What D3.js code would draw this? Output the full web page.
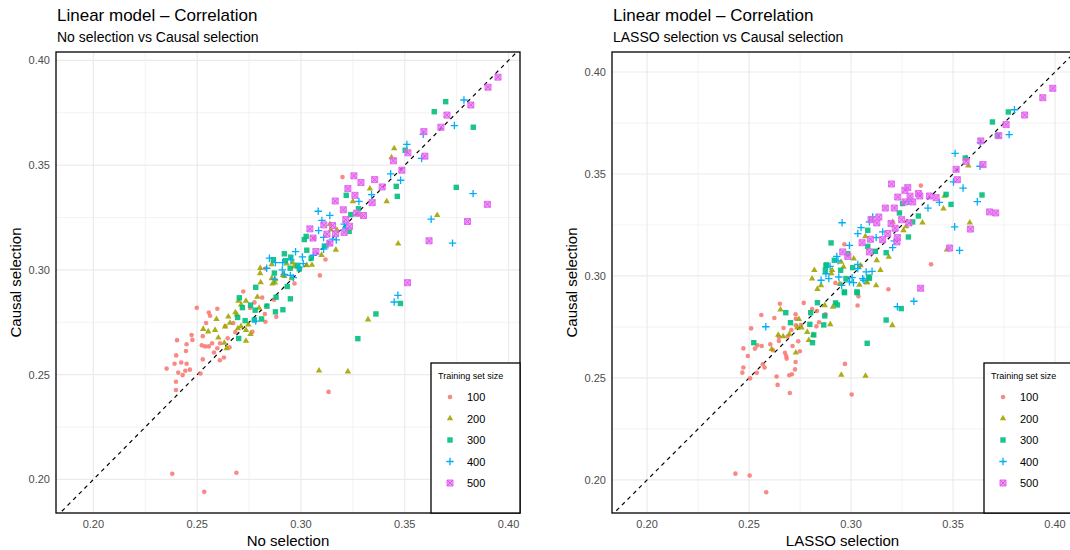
<!DOCTYPE html>
<meta charset="utf-8" />
<style>
  body { margin: 0; background: #fff; }
  text { font-family: 'Liberation Sans', Arial, sans-serif; }
</style>
<svg width="1070" height="550"></svg>
<script src="https://d3js.org/d3.v7.min.js"></script>
<script>
  // [x, causal] pairs
  var noSel100 = [[0.2353,0.2529],[0.2391,0.2552],[0.2398,0.2427],[0.2398,0.2466],[0.2399,0.2592],[0.2403,0.2665],[0.2409,0.2510],[0.2423,0.2558],[0.2430,0.2498],[0.2443,0.2519],[0.2446,0.2613],[0.2449,0.2645],[0.2449,0.2552],[0.2465,0.2524],[0.2473,0.2689],[0.2477,0.2666],[0.2498,0.2819],[0.2516,0.2506],[0.2522,0.2640],[0.2527,0.2684],[0.2527,0.2573],[0.2538,0.2635],[0.2543,0.2747],[0.2556,0.2797],[0.2556,0.2635],[0.2562,0.2781],[0.2572,0.2650],[0.2581,0.2606],[0.2597,0.2815],[0.2597,0.2626],[0.2609,0.2569],[0.2610,0.2650],[0.2629,0.2582],[0.2636,0.2731],[0.2647,0.2674],[0.2656,0.2631],[0.2674,0.2747],[0.2684,0.2703],[0.2722,0.2897],[0.2755,0.2818],[0.2766,0.2705],[0.2776,0.2845],[0.2813,0.2868],[0.2826,0.2790],[0.2829,0.2753],[0.2829,0.3007],[0.2870,0.2858],[0.2881,0.2776],[0.2969,0.2935],[0.3091,0.2974],[0.3118,0.3050],[0.3064,0.3152],[0.3133,0.2418],[0.3200,0.3443],[0.2380,0.2027],[0.2689,0.2032],[0.2534,0.1941]];
  var noSel200 = [[0.2529,0.2718],[0.2553,0.2706],[0.2586,0.2713],[0.2602,0.2677],[0.2593,0.2765],[0.2634,0.2729],[0.2631,0.2652],[0.2642,0.2626],[0.2650,0.2777],[0.2658,0.2747],[0.2684,0.2797],[0.2691,0.2787],[0.2699,0.2852],[0.2712,0.2834],[0.2735,0.2852],[0.2696,0.2721],[0.2711,0.2731],[0.2746,0.2739],[0.2735,0.2713],[0.2757,0.2694],[0.2735,0.2661],[0.2798,0.2819],[0.2790,0.2871],[0.2806,0.2940],[0.2803,0.2984],[0.2859,0.2960],[0.2875,0.2939],[0.2917,0.2979],[0.2955,0.2960],[0.3087,0.2519],[0.3436,0.3537],[0.3449,0.3580],[0.3332,0.3388],[0.3250,0.3327],[0.3413,0.3327],[0.3468,0.3125],[0.3168,0.3096],[0.3099,0.3071],[0.3053,0.3024],[0.3144,0.3192],[0.3139,0.3218],[0.3173,0.3191],[0.2804,0.3008],[0.2859,0.3027],[0.2863,0.2934],[0.2876,0.2955],[0.2920,0.2970],[0.2931,0.3030],[0.2960,0.3035],[0.2968,0.3016],[0.3656,0.3261],[0.3226,0.2515],[0.3323,0.2763],[0.3028,0.3022],[0.2913,0.2975],[0.3280,0.3264]];
  var noSel300 = [[0.3697,0.3803],[0.3642,0.3755],[0.3830,0.3681],[0.3502,0.3571],[0.3459,0.3399],[0.3464,0.3351],[0.3748,0.3394],[0.3218,0.3356],[0.3479,0.2840],[0.3361,0.2790],[0.3274,0.2672],[0.3277,0.3292],[0.3240,0.3264],[0.3232,0.3184],[0.3113,0.3114],[0.3016,0.3145],[0.3025,0.3160],[0.3028,0.3094],[0.3049,0.3056],[0.2920,0.3077],[0.2925,0.3044],[0.2951,0.3061],[0.2948,0.3008],[0.2984,0.3022],[0.2992,0.3005],[0.2872,0.2985],[0.2867,0.3049],[0.2934,0.2921],[0.2949,0.2862],[0.2880,0.2870],[0.2913,0.2810],[0.2877,0.2800],[0.2836,0.2827],[0.2782,0.2917],[0.2703,0.2867],[0.2695,0.2773],[0.2731,0.2758],[0.2718,0.2820],[0.2757,0.2832],[0.2779,0.2808],[0.2775,0.2761],[0.2810,0.2766],[0.2700,0.2673]];
  var noSel400 = [[0.3785,0.3811],[0.3739,0.3689],[0.3589,0.3647],[0.3510,0.3599],[0.3581,0.3532],[0.3432,0.3458],[0.3480,0.3428],[0.3340,0.3359],[0.3279,0.3327],[0.3829,0.3364],[0.3627,0.3242],[0.3730,0.3128],[0.3467,0.2879],[0.3449,0.2847],[0.3083,0.3280],[0.3139,0.3260],[0.3101,0.3236],[0.3085,0.3188],[0.3216,0.3200],[0.3109,0.3155],[0.3152,0.3147],[0.3170,0.3143],[0.3109,0.3099],[0.3208,0.3219],[0.2848,0.3056],[0.2877,0.3035],[0.2912,0.3035],[0.2952,0.3048],[0.2974,0.3087],[0.2920,0.2979],[0.2949,0.2974],[0.2835,0.3008],[0.2963,0.2963],[0.2782,0.2756],[0.2872,0.2955],[0.2910,0.3000],[0.3007,0.3062],[0.3011,0.3030],[0.2990,0.3010],[0.3060,0.3070],[0.3130,0.3120]];
  var noSel500 = [[0.3949,0.3920],[0.3901,0.3872],[0.3818,0.3787],[0.3703,0.3739],[0.3674,0.3681],[0.3592,0.3660],[0.3597,0.3543],[0.3515,0.3559],[0.3445,0.3521],[0.3486,0.3476],[0.3255,0.3449],[0.3289,0.3417],[0.3355,0.3431],[0.3226,0.3388],[0.3391,0.3396],[0.3343,0.3321],[0.3898,0.3313],[0.3260,0.3356],[0.3165,0.3329],[0.3204,0.3287],[0.3268,0.3271],[0.3301,0.3260],[0.3152,0.3212],[0.3216,0.3240],[0.3234,0.3208],[0.3043,0.3196],[0.3058,0.3152],[0.3125,0.3171],[0.3139,0.3128],[0.3072,0.3088],[0.3208,0.3179],[0.3110,0.3215],[0.3167,0.3173],[0.3802,0.3231],[0.3617,0.3139],[0.3513,0.2939]];

  var lasso100 = [[0.2433,0.2031],[0.2503,0.2022],[0.2584,0.1940],[0.3003,0.2419],[0.2970,0.2569],[0.3392,0.3057],[0.3342,0.3443],[0.2967,0.3155],[0.3183,0.2935],[0.3036,0.2900],[0.3032,0.2855],[0.2560,0.2809],[0.2624,0.2794],[0.2651,0.2864],[0.2728,0.2812],[0.2729,0.2790],[0.2729,0.2758],[0.2768,0.2868],[0.2809,0.2838],[0.2833,0.2828],[0.2874,0.2812],[0.2843,0.2773],[0.2830,0.2753],[0.2754,0.2760],[0.2669,0.2745],[0.2707,0.2735],[0.2689,0.2703],[0.2646,0.2701],[0.2646,0.2681],[0.2741,0.2680],[0.2713,0.2657],[0.2749,0.2631],[0.2676,0.2623],[0.2682,0.2608],[0.2684,0.2595],[0.2728,0.2578],[0.2725,0.2542],[0.2710,0.2518],[0.2697,0.2513],[0.2635,0.2507],[0.2640,0.2466],[0.2576,0.2551],[0.2567,0.2567],[0.2541,0.2660],[0.2562,0.2657],[0.2529,0.2644],[0.2510,0.2743],[0.2472,0.2645],[0.2494,0.2608],[0.2472,0.2551],[0.2467,0.2526],[0.2505,0.2498],[0.2538,0.2525],[0.2617,0.2636],[0.2604,0.2665],[0.2700,0.2426],[0.2923,0.2966]];
  var lasso200 = [[0.3565,0.3578],[0.3575,0.3541],[0.3458,0.3392],[0.3453,0.3330],[0.3582,0.3261],[0.3470,0.3129],[0.3350,0.3261],[0.3270,0.3243],[0.3257,0.3224],[0.3204,0.3265],[0.3070,0.3194],[0.3185,0.3093],[0.3126,0.3077],[0.3144,0.3028],[0.3078,0.2971],[0.3123,0.2954],[0.3046,0.3052],[0.3013,0.3085],[0.2951,0.3069],[0.2907,0.3028],[0.2820,0.3028],[0.2809,0.2987],[0.2853,0.2954],[0.2835,0.2936],[0.2903,0.3013],[0.2963,0.3044],[0.2944,0.2962],[0.3041,0.2956],[0.3077,0.2967],[0.3202,0.2758],[0.2911,0.2848],[0.2871,0.2856],[0.2898,0.2763],[0.2654,0.2835],[0.2744,0.2788],[0.2737,0.2747],[0.2757,0.2747],[0.2785,0.2725],[0.2814,0.2711],[0.2793,0.2685],[0.2697,0.2714],[0.2667,0.2704],[0.2643,0.2711],[0.2611,0.2641],[0.2729,0.2624],[0.2952,0.2515],[0.3071,0.2510]];
  var lasso300 = [[0.3771,0.3804],[0.3693,0.3755],[0.3717,0.3688],[0.3560,0.3578],[0.3466,0.3400],[0.3490,0.3351],[0.3642,0.3397],[0.3253,0.3355],[0.2902,0.3162],[0.3082,0.3224],[0.3082,0.3145],[0.2984,0.3109],[0.2918,0.3077],[0.2877,0.3052],[0.2874,0.3028],[0.2949,0.3028],[0.3008,0.3041],[0.3087,0.2995],[0.3119,0.3121],[0.3172,0.3114],[0.3237,0.3309],[0.3330,0.3294],[0.3302,0.3265],[0.3281,0.3191],[0.2967,0.2922],[0.3029,0.2922],[0.2680,0.2820],[0.2703,0.2771],[0.2523,0.2673],[0.2835,0.2869],[0.2802,0.2820],[0.2798,0.2763],[0.2866,0.2760],[0.2871,0.2804],[0.2817,0.2711],[0.2924,0.2868],[0.2933,0.2858],[0.2968,0.2918],[0.3030,0.2918],[0.2880,0.3054],[0.2975,0.2987],[0.3090,0.2989],[0.3172,0.2784],[0.3246,0.2840],[0.3079,0.2670],[0.2811,0.2673]];
  var lasso400 = [[0.3801,0.3815],[0.3775,0.3693],[0.3634,0.3654],[0.3510,0.3601],[0.3632,0.3538],[0.3502,0.3461],[0.3549,0.3431],[0.3619,0.3364],[0.3377,0.3333],[0.3283,0.3366],[0.3433,0.3361],[0.3508,0.3241],[0.3532,0.3125],[0.3308,0.2876],[0.3227,0.2849],[0.2582,0.2751],[0.2956,0.3261],[0.3049,0.3237],[0.3033,0.3208],[0.3106,0.3289],[0.3090,0.3265],[0.3123,0.3188],[0.3155,0.3216],[0.3212,0.3172],[0.3204,0.3139],[0.2992,0.3150],[0.2930,0.3096],[0.2936,0.3074],[0.2897,0.3047],[0.2877,0.3011],[0.2891,0.2987],[0.2940,0.2995],[0.2954,0.2954],[0.2992,0.2971],[0.3005,0.2992],[0.3033,0.3036],[0.3057,0.2987],[0.3074,0.3020],[0.3103,0.3023],[0.2853,0.2979],[0.3063,0.2979],[0.3012,0.2967],[0.3033,0.3057]];
  var lasso500 = [[0.3989,0.3920],[0.3940,0.3874],[0.3851,0.3789],[0.3760,0.3742],[0.3724,0.3688],[0.3636,0.3662],[0.3647,0.3546],[0.3564,0.3562],[0.3515,0.3523],[0.3521,0.3472],[0.3198,0.3451],[0.3278,0.3433],[0.3264,0.3420],[0.3229,0.3387],[0.3289,0.3391],[0.3330,0.3404],[0.3337,0.3392],[0.3384,0.3392],[0.3417,0.3384],[0.3168,0.3333],[0.3212,0.3333],[0.3302,0.3363],[0.3679,0.3314],[0.3709,0.3309],[0.3585,0.3230],[0.3483,0.3137],[0.3341,0.2940],[0.3265,0.3363],[0.3136,0.3289],[0.3098,0.3276],[0.3126,0.3260],[0.3196,0.3257],[0.3248,0.3276],[0.3284,0.3260],[0.3180,0.3208],[0.3216,0.3234],[0.3227,0.3188],[0.3225,0.3167],[0.3054,0.3163],[0.3095,0.3180],[0.3090,0.3118],[0.3155,0.3178],[0.2959,0.3118],[0.2984,0.3096]];

  var sizes = ['100', '200', '300', '400', '500'];
  var colors = ['#F8766D', '#A3A500', '#00BF7D', '#00B0F6', '#E76BF3'];
  var majorTicks = [0.20, 0.25, 0.30, 0.35, 0.40];
  var minorTicks = [0.225, 0.275, 0.325, 0.375];

  var panels = [
    {
      subtitle: 'No selection vs Causal selection',
      xlab: 'No selection',
      series: [noSel100, noSel200, noSel300, noSel400, noSel500],
      left: 56, right: 520,
      xdom: [0.182, 0.4055], ydom: [0.184, 0.404],
    },
    {
      subtitle: 'LASSO selection vs Causal selection',
      xlab: 'LASSO selection',
      series: [lasso100, lasso200, lasso300, lasso400, lasso500],
      left: 612, right: 1073,
      xdom: [0.1828, 0.4088], ydom: [0.1838, 0.4098],
    },
  ];
  var panelTop = 52, panelBottom = 513;

  // marker shapes: circle, triangle, square, plus, square-cross
  function drawShape(sel, i, color) {
    if (i === 0) {
      sel.append('circle').attr('r', 2.3).attr('fill', color).attr('opacity', 0.85);
    } else if (i === 1) {
      sel.append('path').attr('d', d3.symbol().type(d3.symbolTriangle).size(18)())
        .attr('fill', color).attr('opacity', 0.9);
    } else if (i === 2) {
      sel.append('rect').attr('x', -2.7).attr('y', -2.7).attr('width', 5.4).attr('height', 5.4)
        .attr('fill', color).attr('opacity', 0.9);
    } else if (i === 3) {
      sel.append('path').attr('d', 'M-3.7,0H3.7M0,-3.7V3.7')
        .attr('stroke', color).attr('stroke-width', 1.3).attr('fill', 'none');
    } else {
      sel.append('path').attr('d', 'M-3,-3H3V3H-3Z')
        .attr('fill', color).attr('fill-opacity', 0.7)
        .attr('stroke', color).attr('stroke-width', 1);
      sel.append('path').attr('d', 'M-3,-3L3,3M3,-3L-3,3')
        .attr('stroke', '#d44fe0').attr('stroke-width', 0.8).attr('fill', 'none');
    }
  }

  var svg = d3.select('svg');

  panels.forEach(function (p, k) {
    var x = d3.scaleLinear().domain(p.xdom).range([p.left, p.right]);
    var y = d3.scaleLinear().domain(p.ydom).range([panelBottom, panelTop]);
    var g = svg.append('g');

    g.append('clipPath').attr('id', 'clip' + k).append('rect')
      .attr('x', p.left).attr('y', panelTop)
      .attr('width', p.right - p.left).attr('height', panelBottom - panelTop);

    // titles
    g.append('text').attr('x', p.left + 1).attr('y', 21)
      .attr('font-size', 17).attr('fill', '#000').text('Linear model \u2013 Correlation');
    g.append('text').attr('x', p.left + 1).attr('y', 42)
      .attr('font-size', 14).attr('fill', '#000').text(p.subtitle);

    // grid
    g.selectAll('.minx').data(minorTicks).enter().append('line')
      .attr('x1', x).attr('x2', x).attr('y1', panelTop).attr('y2', panelBottom)
      .attr('stroke', '#ebebeb').attr('stroke-width', 0.6);
    g.selectAll('.miny').data(minorTicks).enter().append('line')
      .attr('y1', y).attr('y2', y).attr('x1', p.left).attr('x2', p.right)
      .attr('stroke', '#ebebeb').attr('stroke-width', 0.6);
    g.selectAll('.majx').data(majorTicks).enter().append('line')
      .attr('x1', x).attr('x2', x).attr('y1', panelTop).attr('y2', panelBottom)
      .attr('stroke', '#ebebeb').attr('stroke-width', 1.2);
    g.selectAll('.majy').data(majorTicks).enter().append('line')
      .attr('y1', y).attr('y2', y).attr('x1', p.left).attr('x2', p.right)
      .attr('stroke', '#ebebeb').attr('stroke-width', 1.2);

    // tick labels
    g.selectAll('.xt').data(majorTicks).enter().append('text')
      .attr('x', x).attr('y', panelBottom + 15).attr('text-anchor', 'middle')
      .attr('font-size', 11).attr('fill', '#4d4d4d').text(d3.format('.2f'));
    g.selectAll('.yt').data(majorTicks).enter().append('text')
      .attr('x', p.left - 6).attr('y', function (d) { return y(d) + 4; })
      .attr('text-anchor', 'end')
      .attr('font-size', 11).attr('fill', '#4d4d4d').text(d3.format('.2f'));

    // axis titles
    g.append('text').attr('x', (p.left + p.right) / 2).attr('y', 546)
      .attr('text-anchor', 'middle').attr('font-size', 15).attr('fill', '#000').text(p.xlab);
    g.append('text')
      .attr('transform', 'translate(' + (p.left - 35) + ',' + ((panelTop + panelBottom) / 2) + ') rotate(-90)')
      .attr('text-anchor', 'middle').attr('font-size', 15).attr('fill', '#000').text('Causal selection');

    var plot = g.append('g').attr('clip-path', 'url(#clip' + k + ')');

    // y = x reference line
    var lo = Math.max(p.xdom[0], p.ydom[0]), hi = Math.min(p.xdom[1], p.ydom[1]);
    plot.append('line')
      .attr('x1', x(lo - 0.01)).attr('y1', y(lo - 0.01))
      .attr('x2', x(hi + 0.01)).attr('y2', y(hi + 0.01))
      .attr('stroke', '#000').attr('stroke-width', 1.2).attr('stroke-dasharray', '4,4');

    p.series.forEach(function (pts, i) {
      plot.selectAll('.pt' + i).data(pts).enter().append('g')
        .attr('transform', function (d) { return 'translate(' + x(d[0]) + ',' + y(d[1]) + ')'; })
        .each(function () { drawShape(d3.select(this), i, colors[i]); });
    });

    // panel border
    g.append('rect').attr('x', p.left).attr('y', panelTop)
      .attr('width', p.right - p.left).attr('height', panelBottom - panelTop)
      .attr('fill', 'none').attr('stroke', '#000').attr('stroke-width', 1.3);

    // legend
    var lx = p.right - 89, ly = 363;
    var leg = g.append('g');
    leg.append('rect').attr('x', lx).attr('y', ly).attr('width', 89).attr('height', panelBottom - ly)
      .attr('fill', '#fff').attr('stroke', '#000').attr('stroke-width', 1.3);
    leg.append('text').attr('x', lx + 7).attr('y', ly + 16)
      .attr('font-size', 9).attr('fill', '#000').text('Training set size');
    sizes.forEach(function (s, i) {
      var cy = 397 + i * 21.5;
      var item = leg.append('g').attr('transform', 'translate(' + (lx + 19) + ',' + cy + ')');
      drawShape(item, i, colors[i]);
      leg.append('text').attr('x', lx + 36).attr('y', cy + 4)
        .attr('font-size', 11).attr('fill', '#000').text(s);
    });
  });
</script>
